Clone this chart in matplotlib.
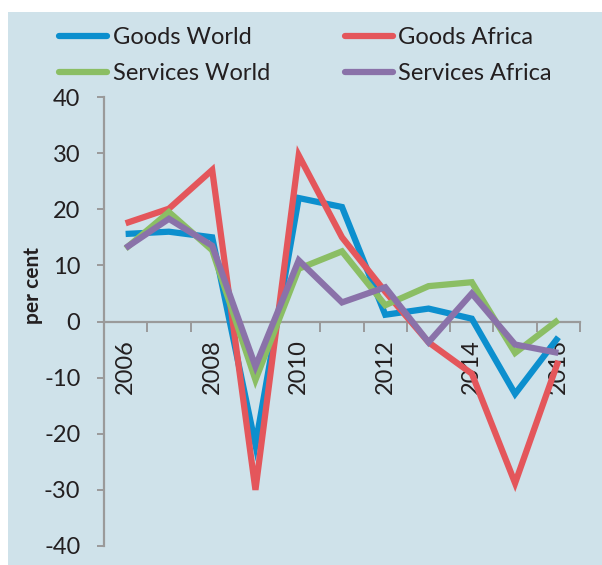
import matplotlib
matplotlib.use("Agg")
import matplotlib.pyplot as plt
from matplotlib.patches import Rectangle
import numpy as np

plt.rcParams['font.family'] = ['Lato', 'DejaVu Sans']

years = [2006, 2007, 2008, 2009, 2010, 2011, 2012, 2013, 2014, 2015, 2016]
goods_world = [15.6, 16.0, 15.0, -22.0, 22.0, 20.4, 1.2, 2.3, 0.5, -12.9, -2.8]
goods_africa = [17.5, 20.1, 27.0, -30.0, 29.6, 15.0, 5.3, -3.7, -9.3, -28.8, -7.0]
services_world = [13.0, 19.5, 12.7, -10.4, 9.4, 12.5, 2.9, 6.3, 7.0, -5.6, 0.3]
services_africa = [13.1, 18.3, 13.5, -8.0, 10.9, 3.4, 6.1, -3.7, 5.0, -4.1, -5.6]
year_labels = ['2006', '', '2008', '', '2010', '', '2012', '', '2014', '', '2016']
y_ticks = [-40, -30, -20, -10, 0, 10, 20, 30, 40]

series = [
    ("Goods World", goods_world, "#0C8FCE"),
    ("Goods Africa", goods_africa, "#E4565B"),
    ("Services World", services_world, "#8BBE64"),
    ("Services Africa", services_africa, "#8A72A9"),
]

panel = "#CFE2EA"
axis_grey = "#9A9A9A"
text_col = "#231F20"

W, H = 602, 565
fig = plt.figure(figsize=(W / 100, H / 100), dpi=100)
fig.patch.set_facecolor("white")

# light blue panel behind the chart
bg = fig.add_axes([0, 0, 1, 1], zorder=-1)
bg.set_xlim(0, W)
bg.set_ylim(H, 0)
bg.axis("off")
bg.add_patch(Rectangle((8, 12), W - 8, H - 12, facecolor=panel, edgecolor="none"))

ax = fig.add_axes([104 / W, 19 / H, (580 - 104) / W, (546 - 97) / H])
ax.set_facecolor("none")

x = np.arange(len(years))
handles = {}
for name, vals, col in series:
    h, = ax.plot(x, vals, color=col, lw=4.5, solid_joinstyle="miter",
                 solid_capstyle="butt", label=name, zorder=3)
    handles[name] = h

ax.set_xlim(-0.5, len(years) - 0.5)
ax.set_ylim(-40, 40)

for s in ["top", "right"]:
    ax.spines[s].set_visible(False)
ax.spines["left"].set_color(axis_grey)
ax.spines["left"].set_linewidth(1.6)
ax.spines["bottom"].set_color(axis_grey)
ax.spines["bottom"].set_linewidth(1.6)
ax.spines["bottom"].set_position(("data", 0))

ax.set_yticks(y_ticks)
ax.set_yticklabels([str(v) for v in y_ticks])
ax.tick_params(axis="y", direction="out", length=5, width=1.4, color=axis_grey,
               labelsize=17, labelcolor=text_col, pad=12)

ax.set_xticks(x)
ax.set_xticklabels(year_labels, rotation=90, ha="center", va="top")
ax.set_xticks(np.arange(-0.5, len(years), 1.0), minor=True)
ax.tick_params(axis="x", which="major", length=0, labelsize=17,
               labelcolor=text_col, pad=13)
ax.tick_params(axis="x", which="minor", direction="out", length=7, width=1.4,
               color=axis_grey)

fig.text(33 / W, 1 - 285 / H, "per cent", rotation=90, ha="center", va="center",
         fontsize=15, fontweight="bold", color=text_col)

# legend filled column-wise: two rows, goods on top
order = ["Goods World", "Services World", "Goods Africa", "Services Africa"]
leg = fig.legend([handles[n] for n in order], order, loc="upper left", ncol=2,
                 bbox_to_anchor=(50 / W, 1 - 18 / H), frameon=False,
                 fontsize=17, handlelength=2.0, handletextpad=0.25,
                 columnspacing=3.2, labelspacing=0.62, borderaxespad=0)
for t in leg.get_texts():
    t.set_color(text_col)
for l in leg.get_lines():
    l.set_linewidth(4.5)
    l.set_solid_capstyle("round")

fig.savefig("out.png", dpi=100, facecolor="white")
